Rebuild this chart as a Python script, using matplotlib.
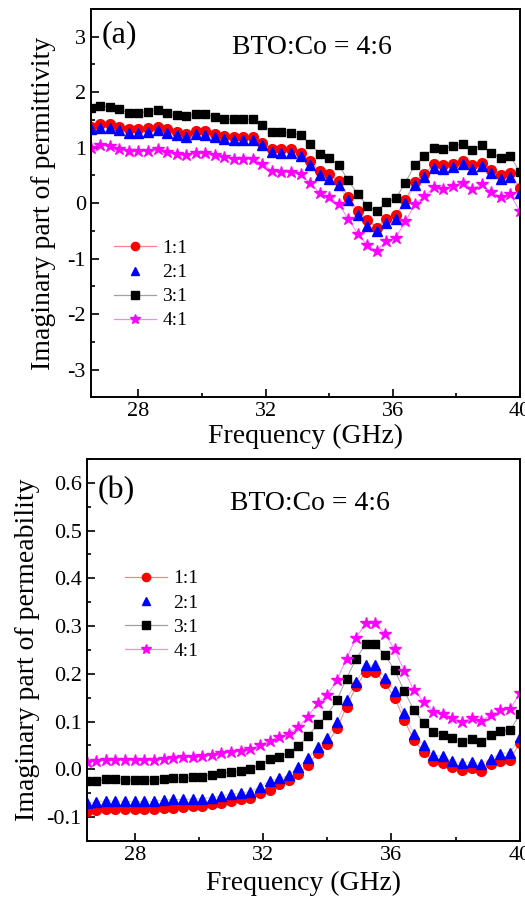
import numpy as np
import matplotlib
matplotlib.use('Agg')
import matplotlib.pyplot as plt
from matplotlib.ticker import MultipleLocator, FormatStrFormatter

plt.rcParams['font.family'] = ['Liberation Serif', 'DejaVu Serif']
plt.rcParams['axes.unicode_minus'] = False

# frequency grid (GHz)
freq = np.round(26.5 + 0.3 * np.arange(46), 1)

labels = ['1:1', '2:1', '3:1', '4:1']

# (a) imaginary part of permittivity
eps_11 = [1.38, 1.42, 1.42, 1.38, 1.33, 1.33, 1.35, 1.37, 1.33, 1.28, 1.25, 1.30, 1.30, 1.25, 1.21, 1.20,
          1.19, 1.19, 1.08, 0.98, 0.97, 0.97, 0.90, 0.76, 0.58, 0.52, 0.40, 0.12, -0.14, -0.30, -0.44, -0.28,
          -0.22, 0.05, 0.39, 0.53, 0.70, 0.68, 0.71, 0.76, 0.68, 0.73, 0.60, 0.50, 0.55, 0.27]
eps_21 = [1.34, 1.36, 1.36, 1.31, 1.27, 1.27, 1.29, 1.31, 1.27, 1.22, 1.19, 1.24, 1.23, 1.19, 1.15, 1.14,
          1.13, 1.13, 1.05, 0.92, 0.91, 0.91, 0.85, 0.69, 0.51, 0.44, 0.32, 0.05, -0.21, -0.42, -0.51, -0.36,
          -0.28, 0.00, 0.33, 0.47, 0.63, 0.61, 0.65, 0.70, 0.61, 0.67, 0.54, 0.44, 0.48, 0.19]
eps_31 = [1.71, 1.75, 1.74, 1.69, 1.63, 1.63, 1.65, 1.68, 1.63, 1.59, 1.57, 1.61, 1.60, 1.56, 1.51, 1.51,
          1.51, 1.51, 1.41, 1.29, 1.28, 1.27, 1.22, 1.07, 0.89, 0.81, 0.69, 0.41, 0.17, -0.05, -0.14, 0.02,
          0.09, 0.37, 0.69, 0.85, 0.99, 0.98, 1.03, 1.07, 0.96, 1.05, 0.91, 0.81, 0.85, 0.56]
eps_41 = [1.00, 1.04, 1.03, 0.97, 0.94, 0.94, 0.94, 0.97, 0.92, 0.89, 0.86, 0.91, 0.90, 0.87, 0.83, 0.80,
          0.79, 0.80, 0.71, 0.58, 0.57, 0.56, 0.52, 0.37, 0.18, 0.11, -0.02, -0.28, -0.55, -0.76, -0.86, -0.68,
          -0.62, -0.33, -0.02, 0.13, 0.29, 0.26, 0.31, 0.37, 0.26, 0.34, 0.20, 0.11, 0.16, -0.14]

# (b) imaginary part of permeability
mu_11 = [-0.087, -0.085, -0.083, -0.082, -0.083, -0.084, -0.084, -0.082, -0.081, -0.080, -0.079, -0.077,
         -0.076, -0.073, -0.070, -0.066, -0.063, -0.059, -0.050, -0.043, -0.031, -0.022, -0.010, 0.009,
         0.035, 0.054, 0.086, 0.131, 0.174, 0.204, 0.204, 0.180, 0.150, 0.103, 0.061, 0.037, 0.018, 0.014,
         0.004, -0.001, 0.003, -0.003, 0.012, 0.018, 0.020, 0.056]
mu_21 = [-0.071, -0.068, -0.066, -0.066, -0.067, -0.067, -0.067, -0.067, -0.064, -0.063, -0.063, -0.062,
         -0.061, -0.059, -0.056, -0.052, -0.049, -0.047, -0.036, -0.024, -0.019, -0.012, 0.004, 0.023,
         0.047, 0.066, 0.100, 0.145, 0.183, 0.218, 0.218, 0.192, 0.164, 0.117, 0.075, 0.052, 0.030, 0.027,
         0.018, 0.013, 0.016, 0.012, 0.022, 0.033, 0.035, 0.068]
mu_31 = [-0.024, -0.024, -0.021, -0.020, -0.022, -0.023, -0.023, -0.023, -0.020, -0.019, -0.018, -0.017,
         -0.015, -0.012, -0.008, -0.006, -0.003, 0.000, 0.010, 0.021, 0.026, 0.035, 0.049, 0.070,
         0.094, 0.114, 0.145, 0.190, 0.232, 0.262, 0.262, 0.239, 0.208, 0.164, 0.124, 0.098, 0.079, 0.072,
         0.065, 0.058, 0.063, 0.058, 0.072, 0.080, 0.082, 0.115]
mu_41 = [0.016, 0.018, 0.019, 0.019, 0.019, 0.019, 0.019, 0.019, 0.022, 0.023, 0.025, 0.025,
         0.027, 0.030, 0.035, 0.037, 0.039, 0.042, 0.051, 0.060, 0.068, 0.075, 0.089, 0.110,
         0.139, 0.155, 0.187, 0.232, 0.276, 0.306, 0.306, 0.283, 0.251, 0.206, 0.166, 0.142, 0.121, 0.116,
         0.107, 0.100, 0.107, 0.101, 0.114, 0.124, 0.126, 0.159]

styles = [
    dict(marker='o', color='red', ms=7, line='#ff8080'),
    dict(marker='^', color='blue', ms=7, line='#c8c8ff'),
    dict(marker='s', color='black', ms=6, line='#a0a0a0'),
    dict(marker='*', color='magenta', ms=9, line='#ff80ff'),
]


def draw_panel(ax, series, ylim, major, minor, fmt, ylabel, tag, tag_y, note_y,
               leg_anchor, ypad, xpad):
    for vals, lab, st in zip(series, labels, styles):
        ax.plot(freq, vals, color=st['line'], lw=0.7, zorder=1)
        ax.plot(freq, vals, ls='none', marker=st['marker'], ms=st['ms'],
                mfc=st['color'], mec=st['color'], zorder=2)
    # legend proxies
    handles = []
    for lab, st in zip(labels, styles):
        ls = '-' if lab != '2:1' else 'none'
        h, = ax.plot([], [], ls=ls, color=st['line'], lw=0.9, marker=st['marker'],
                     ms=st['ms'] * 0.85, mfc=st['color'], mec=st['color'], label=lab)
        handles.append(h)
    ax.legend(handles=handles, loc='upper left', bbox_to_anchor=leg_anchor, frameon=False,
              fontsize=14, handlelength=2.2, labelspacing=0.33, handletextpad=0.3,
              borderaxespad=0)

    ax.set_xlim(26.5, 40)
    ax.set_ylim(*ylim)
    ax.xaxis.set_major_locator(MultipleLocator(4))
    ax.xaxis.set_minor_locator(MultipleLocator(2))
    ax.yaxis.set_major_locator(MultipleLocator(major))
    ax.yaxis.set_minor_locator(MultipleLocator(minor))
    ax.yaxis.set_major_formatter(FormatStrFormatter(fmt))
    ax.tick_params(which='both', direction='in', top=False, right=False, labelsize=16, width=1.2)
    ax.tick_params(which='major', length=6)
    ax.tick_params(which='minor', length=3)
    for sp in ax.spines.values():
        sp.set_linewidth(1.4)
    ax.set_xlabel('Frequency (GHz)', fontsize=20, labelpad=xpad)
    ax.set_ylabel(ylabel, fontsize=20, labelpad=ypad)
    ax.text(0.025, tag_y, tag, transform=ax.transAxes, fontsize=23, va='center', ha='left')
    ax.text(0.515, note_y, 'BTO:Co = 4:6', transform=ax.transAxes, fontsize=20, va='center', ha='center')


fig = plt.figure(figsize=(5.25, 8.99), dpi=100)
ax1 = fig.add_axes([0.173, 0.558, 0.817, 0.432])
ax2 = fig.add_axes([0.165, 0.0645, 0.825, 0.425])

draw_panel(ax1, [eps_11, eps_21, eps_31, eps_41], (-3.5, 3.5), 1, 0.5, '%d',
           'Imaginary part of permittivity', '(a)', 0.935, 0.902, (0.035, 0.426), 8, 2)
draw_panel(ax2, [mu_11, mu_21, mu_31, mu_41], (-0.15, 0.65), 0.1, 0.05, '%.1f',
           'Imaginary part of permeability', '(b)', 0.918, 0.884, (0.07, 0.73), 5, 4)

fig.savefig('out.png', dpi=100)
